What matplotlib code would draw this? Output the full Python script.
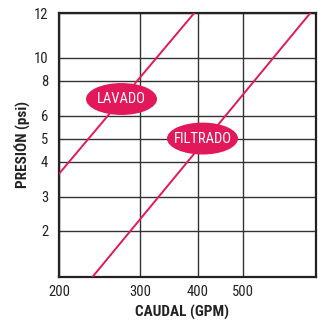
import numpy as np
import matplotlib
matplotlib.use('Agg')
import matplotlib.pyplot as plt
from matplotlib.patches import Ellipse

# Datos (caudal GPM -> presión psi)
caudal_lavado = [200, 392]
presion_lavado = [3.67, 12]
caudal_filtrado = [236, 700]
presion_filtrado = [1, 12]

x_ticks = [200, 300, 400, 500]
y_ticks = [2, 3, 4, 5, 6, 8, 10, 12]

# La escala vertical del original no es logarítmica exacta:
# posiciones relativas de cada línea de la rejilla
y_vals = [1, 2, 3, 4, 5, 6, 8, 10, 12]
y_pos = [0, 46, 80.3, 115, 138, 161, 196, 219, 263.7]

def fwd(v):
    return np.interp(v, y_vals, y_pos)

def inv(p):
    return np.interp(p, y_pos, y_vals)

rojo = '#E2185B'
plt.rcParams['font.family'] = ['Roboto Condensed', 'DejaVu Sans']

fig = plt.figure(figsize=(3.18, 3.22), dpi=100)
ax = fig.add_axes([0.1865, 0.1398, 0.8063, 0.8189])

ax.set_xscale('log')
ax.set_yscale('function', functions=(fwd, inv))
ax.set_xlim(200, 720)
ax.set_ylim(1, 12)

ax.plot(caudal_lavado, presion_lavado, color=rojo, lw=1.4, zorder=3)
ax.plot(caudal_filtrado, presion_filtrado, color=rojo, lw=1.4, zorder=3)

ax.set_xticks(x_ticks)
ax.set_xticklabels([str(v) for v in x_ticks])
ax.xaxis.set_minor_locator(matplotlib.ticker.NullLocator())
ax.set_yticks(y_ticks)
ax.set_yticklabels([str(v) for v in y_ticks])
ax.yaxis.set_minor_locator(matplotlib.ticker.NullLocator())
ax.tick_params(axis='both', length=0, labelsize=10.5, colors='#222222')
ax.tick_params(axis='y', pad=8)
ax.tick_params(axis='x', pad=6)

ax.grid(True, color='#333333', lw=1.0)
for s in ax.spines.values():
    s.set_linewidth(1.6)
    s.set_color('#222222')

# Etiquetas en elipse
for (cx, cy, txt) in [(0.2426, 0.675, 'LAVADO'), (0.5585, 0.525, 'FILTRADO')]:
    ax.add_patch(Ellipse((cx, cy), 0.277, 0.121, transform=ax.transAxes,
                         facecolor=rojo, edgecolor='none', zorder=4))
    ax.text(cx, cy, txt, transform=ax.transAxes, ha='center', va='center',
            color='white', fontsize=10.5, zorder=5)

fig.text(0.571, 0.028, 'CAUDAL (GPM)', ha='center', va='center',
         fontsize=11, fontweight='bold', color='#222222')
fig.text(0.071, 0.551, 'PRESIÓN (psi)', ha='center', va='center', rotation=90,
         fontsize=11, fontweight='bold', color='#222222')

fig.savefig('out.png', dpi=100)
